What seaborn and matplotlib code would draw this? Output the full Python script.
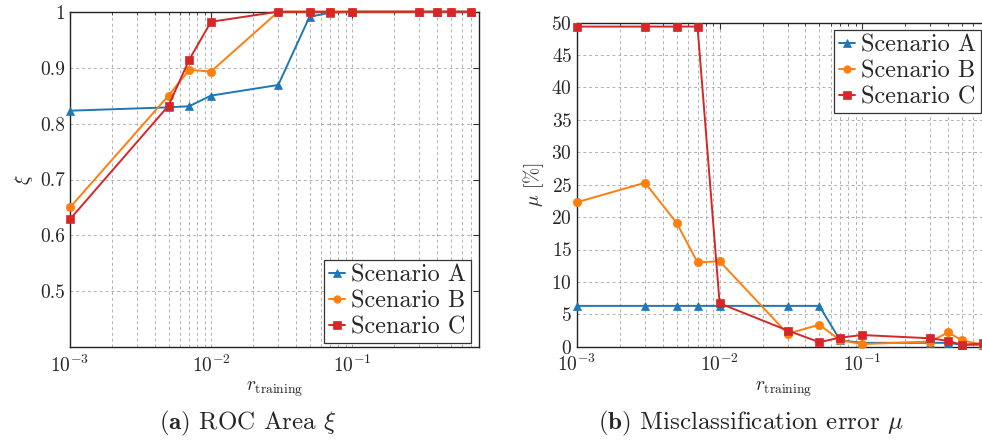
import numpy as np
import pandas as pd
import matplotlib
matplotlib.use("Agg")
import matplotlib.pyplot as plt
import seaborn as sns
from matplotlib.ticker import LogLocator, NullFormatter, FixedLocator

# ---- data ----
r_left = [0.001, 0.005, 0.007, 0.01, 0.03, 0.05, 0.07, 0.1, 0.3, 0.4, 0.5, 0.7]
xi_A = [0.823, 0.829, 0.831, 0.850, 0.869, 0.991, 0.998, 1.0, 1.0, 1.0, 1.0, 1.0]
xi_B = [0.650, 0.850, 0.896, 0.893, 1.0, 1.0, 1.0, 1.0, 1.0, 1.0, 1.0, 1.0]
xi_C = [0.629, 0.832, 0.914, 0.982, 1.0, 1.0, 1.0, 1.0, 1.0, 1.0, 1.0, 1.0]

r_right = [0.001, 0.003, 0.005, 0.007, 0.01, 0.03, 0.05, 0.07, 0.1, 0.3, 0.4, 0.5, 0.7]
mu_A = [6.3, 6.3, 6.3, 6.3, 6.3, 6.3, 6.3, 1.0, 0.6, 0.6, 0.6, 0.3, 0.3]
mu_B = [22.3, 25.3, 19.1, 13.0, 13.2, 2.0, 3.4, 1.0, 0.4, 0.8, 2.2, 1.0, 0.3]
mu_C = [49.4, 49.4, 49.4, 49.4, 6.7, 2.5, 0.7, 1.4, 1.8, 1.3, 0.9, 0.3, 0.5]

series = ["Scenario A", "Scenario B", "Scenario C"]
colors = ["#1f77b4", "#ff7f0e", "#d62728"]
markers = ["^", "o", "s"]

sns.set_style("white")
plt.rcParams["font.family"] = ["serif"]
plt.rcParams["font.serif"] = ["cmr10", "DejaVu Serif"]
plt.rcParams["mathtext.fontset"] = "cm"
plt.rcParams["axes.formatter.use_mathtext"] = True

fig = plt.figure(figsize=(9.82, 4.46), dpi=100)
W, H = 982, 446


def add_ax(x0, x1, ytop, ybot):
    return fig.add_axes([x0 / W, (H - ybot) / H, (x1 - x0) / W, (ybot - ytop) / H])


ax1 = add_ax(70, 479.3, 11.7, 347.3)
ax2 = add_ax(577, 991, 22.7, 346.7)


def draw(ax, x, ys):
    for name, y, c, m in zip(series, ys, colors, markers):
        df = pd.DataFrame({"r": x, "v": y})
        sns.lineplot(data=df, x="r", y="v", ax=ax, color=c, marker=m,
                     markersize=6, markeredgecolor=c,
                     markeredgewidth=0.5, linewidth=1.4, label=name,
                     clip_on=False, zorder=3)


def style(ax, ymin, ymax, yticks):
    ax.set_xscale("log")
    ax.set_xlim(0.001, 0.8)
    ax.set_ylim(ymin, ymax)
    ax.yaxis.set_major_locator(FixedLocator(yticks))
    ax.xaxis.set_major_locator(LogLocator(base=10, numticks=10))
    ax.xaxis.set_minor_locator(LogLocator(base=10, subs=np.arange(2, 10), numticks=20))
    ax.xaxis.set_minor_formatter(NullFormatter())
    ax.grid(True, which="both", axis="x", color="#b0b0b0", linestyle=(0, (3, 3)), linewidth=0.7)
    ax.grid(True, which="major", axis="y", color="#b0b0b0", linestyle=(0, (3, 3)), linewidth=0.7)
    ax.tick_params(which="both", direction="in", top=True, right=True, labelsize=14,
                   color="#333333")
    ax.tick_params(which="major", length=4)
    ax.tick_params(which="minor", length=2)
    ax.tick_params(axis="x", which="major", pad=5)
    for s in ax.spines.values():
        s.set_color("#222222")
        s.set_linewidth(1.0)
    ax.set_xlabel(r"$r_{\mathrm{training}}$", fontsize=14, labelpad=3)


leg_kw = dict(fontsize=17.5, frameon=True, fancybox=False, edgecolor="#333333",
              framealpha=1, borderaxespad=0, handlelength=0.65, handletextpad=0.25,
              labelspacing=0.15, borderpad=0.2, markerscale=0.9)

draw(ax1, r_left, [xi_A, xi_B, xi_C])
style(ax1, 0.4, 1.0, [0.5, 0.6, 0.7, 0.8, 0.9, 1.0])
ax1.set_yticklabels(["0.5", "0.6", "0.7", "0.8", "0.9", "1"])
ax1.set_ylabel(r"$\xi$", fontsize=14, labelpad=4)
leg1 = ax1.legend(loc="lower right", bbox_to_anchor=(470.7 / W, 1 - 343.3 / H),
                  bbox_transform=fig.transFigure, **leg_kw)
leg1.get_frame().set_linewidth(0.9)

draw(ax2, r_right, [mu_A, mu_B, mu_C])
style(ax2, 0, 50, list(range(0, 51, 5)))
ax2.set_ylabel(r"$\mu$ [%]", fontsize=14, labelpad=4)
leg2 = ax2.legend(loc="upper right", bbox_to_anchor=(981 / W, 1 - 30 / H),
                  bbox_transform=fig.transFigure, **leg_kw)
leg2.get_frame().set_linewidth(0.9)

fig.text(248 / W, 1 - 423 / H, r"$\mathbf{(a)}$ ROC Area $\xi$", ha="center", va="center", fontsize=18)
fig.text(751 / W, 1 - 423 / H, r"$\mathbf{(b)}$ Misclassification error $\mu$", ha="center", va="center", fontsize=18)

fig.savefig("out.png", dpi=100)
